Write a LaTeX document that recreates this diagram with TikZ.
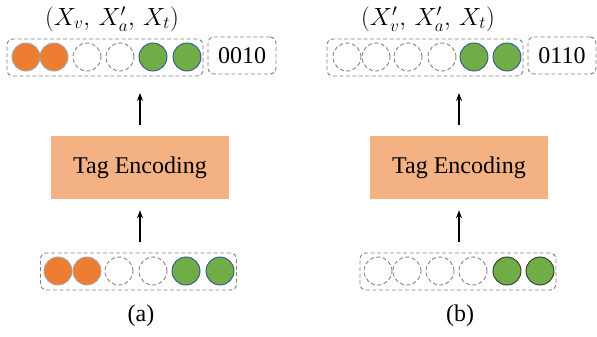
\documentclass[tikz,border=0pt]{standalone}
\usepackage{fontspec}
\setmainfont{Liberation Serif}
\usetikzlibrary{arrows.meta}
\definecolor{orangefill}{HTML}{ED7D31}
\definecolor{greenfill}{HTML}{70AD47}
\definecolor{blueedge}{HTML}{2F5597}
\definecolor{encfill}{HTML}{F4B183}
\definecolor{dashgray}{HTML}{808080}
\tikzset{
  rowbox/.style={draw=dashgray, dash pattern=on 4pt off 2.5pt, line width=0.9pt,
    rounded corners=6pt, minimum width=196pt, minimum height=37pt, inner sep=0pt},
  tagbox/.style={draw=dashgray, dash pattern=on 4pt off 2.5pt, line width=0.9pt,
    rounded corners=6pt, minimum width=68pt, minimum height=37pt, inner sep=0pt,
    font=\fontsize{24}{27}\selectfont},
  dot/.style={circle, minimum size=28pt, inner sep=0pt, line width=0.9pt},
  odot/.style={dot, fill=orangefill, draw=gray!70},
  gdot/.style={dot, fill=greenfill, draw=blueedge},
  gdotk/.style={dot, fill=greenfill, draw=black!80},
  edot/.style={dot, draw=dashgray, dash pattern=on 4pt off 2.5pt},
  enc/.style={fill=encfill, minimum width=178pt, minimum height=63pt,
    font=\fontsize{24}{27}\selectfont},
  txt/.style={font=\fontsize{24}{27}\selectfont},
  mtxt/.style={font=\fontsize{25}{28}\selectfont},
  arr/.style={-{Stealth[length=8pt,width=6pt]}, line width=1.3pt}
}
\begin{document}
\begin{tikzpicture}[x=1pt,y=-1pt]
\useasboundingbox (0,0) rectangle (597,337);

% ---------- panel (a) ----------
\node[mtxt] (ta) at (112,19) {$(X_v,\,X_a',\,X_t)$};
\node[rowbox] (rowa) at (105,57.5) {};
\node[odot] (a1) at (26,57) {};
\node[odot] (a2) at (54,57) {};
\node[edot] (a3) at (87,57) {};
\node[edot] (a4) at (120,57) {};
\node[gdot] (a5) at (153,57) {};
\node[gdot] (a6) at (187,57) {};
\node[tagbox] (taga) at (242,55.5) {0010};

\node[enc] (enca) at (140,167.5) {Tag Encoding};

\node[rowbox] (inpa) at (138.5,271.5) {};
\node[odot] (b1) at (58,271) {};
\node[odot] (b2) at (87,271) {};
\node[edot] (b3) at (119,271) {};
\node[edot] (b4) at (153,271) {};
\node[gdot] (b5) at (186,271) {};
\node[gdot] (b6) at (220,271) {};
\node[txt] (capa) at (141,316) {(a)};

\coordinate (upa) at (140,93);
\draw[arr] ([yshift=11pt]enca.north) -- (upa);
\draw[arr] ([yshift=11pt]inpa.north -| enca.south) -- ([yshift=-11pt]enca.south);

% ---------- panel (b) ----------
\node[mtxt] (tb) at (428,19) {$(X_v',\,X_a',\,X_t)$};
\node[rowbox] (rowb) at (425,57.5) {};
\node[edot] (c1) at (347,57) {};
\node[edot] (c2) at (376,57) {};
\node[edot] (c3) at (408,57) {};
\node[edot] (c4) at (442,57) {};
\node[gdot] (c5) at (474,57) {};
\node[gdot] (c6) at (507,57) {};
\node[tagbox] (tagb) at (562,55.5) {0110};

\node[enc] (encb) at (459,167.5) {Tag Encoding};

\node[rowbox] (inpb) at (458,271.5) {};
\node[edot] (d1) at (378,271) {};
\node[edot] (d2) at (407,271) {};
\node[edot] (d3) at (440,271) {};
\node[edot] (d4) at (473,271) {};
\node[gdotk] (d5) at (507,271) {};
\node[gdotk] (d6) at (540,271) {};
\node[txt] (capb) at (460,316) {(b)};

\coordinate (upb) at (459,93);
\draw[arr] ([yshift=11pt]encb.north) -- (upb);
\draw[arr] ([yshift=11pt]inpb.north -| encb.south) -- ([yshift=-11pt]encb.south);
\end{tikzpicture}
\end{document}
